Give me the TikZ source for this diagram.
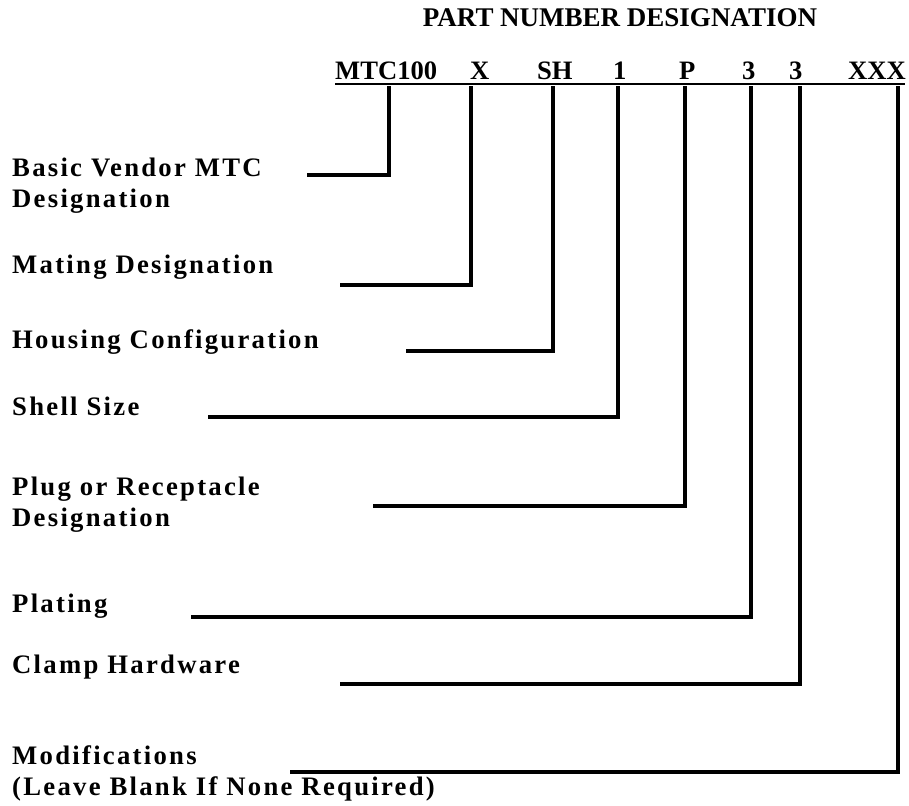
\documentclass[tikz,border=0pt]{standalone}
\usepackage{fontspec}
\setmainfont{Liberation Serif}
\newfontfamily\lblfam[LetterSpace=8.5]{Liberation Serif}
\begin{document}
\begin{tikzpicture}[x=1pt,y=-1pt,
  hdr/.style={anchor=base west, inner sep=0pt, font=\bfseries\fontsize{26.6}{31}\selectfont},
  lbl/.style={anchor=base west, inner sep=0pt, font=\lblfam\bfseries\fontsize{26.7}{31}\selectfont},
  conn/.style={line width=4pt, line join=miter},
  uline/.style={line width=2.5pt}]
\useasboundingbox (0,0) rectangle (909,805);
% title
\node[anchor=base, inner sep=0pt, font=\bfseries\fontsize{27}{31}\selectfont] (title) at (620,27) {PART NUMBER DESIGNATION};
% header
\node[hdr] (hA) at (335,80) {MTC100};
\node[hdr] (hB) at (470,80) {X};
\node[hdr] (hC) at (537,80) {SH};
\node[hdr] (hD) at (613,80) {1};
\node[hdr] (hE) at (679,80) {P};
\node[hdr] (hF) at (742,80) {3};
\node[hdr] (hG) at (789,80) {3};
\node[hdr] (hH) at (848,80) {XXX};
\coordinate (ulL) at (335,84);
\coordinate (ulR) at (905,84);
\draw[uline] (ulL) -- (ulR);
% labels
\node[lbl] (l1a) at (12,176) {Basic Vendor MTC};
\node[lbl] (l1b) at (12,207) {Designation};
\node[lbl] (l2) at (12,273) {Mating Designation};
\node[lbl] (l3) at (12,348) {Housing Configuration};
\node[lbl] (l4) at (12,415) {Shell Size};
\node[lbl] (l5a) at (12,495) {Plug or Receptacle};
\node[lbl] (l5b) at (12,526) {Designation};
\node[lbl] (l6) at (12,612) {Plating};
\node[lbl] (l7) at (12,673) {Clamp Hardware};
\node[lbl] (l8a) at (12,764) {Modifications};
\node[lbl] (l8b) at (12,795) {(Leave Blank If None Required)};
% connector ends
\coordinate (s1) at (307,175); \coordinate (t1) at (389,86);
\coordinate (s2) at (340,285); \coordinate (t2) at (471,86);
\coordinate (s3) at (406,351); \coordinate (t3) at (553,86);
\coordinate (s4) at (208,417); \coordinate (t4) at (618,86);
\coordinate (s5) at (373,506); \coordinate (t5) at (685,86);
\coordinate (s6) at (191,617); \coordinate (t6) at (751,86);
\coordinate (s7) at (340,684); \coordinate (t7) at (800,86);
\coordinate (s8) at (290,772); \coordinate (t8) at (898,86);
\foreach \i in {1,...,8} {\draw[conn] (s\i) -| (t\i);}
\end{tikzpicture}
\end{document}
